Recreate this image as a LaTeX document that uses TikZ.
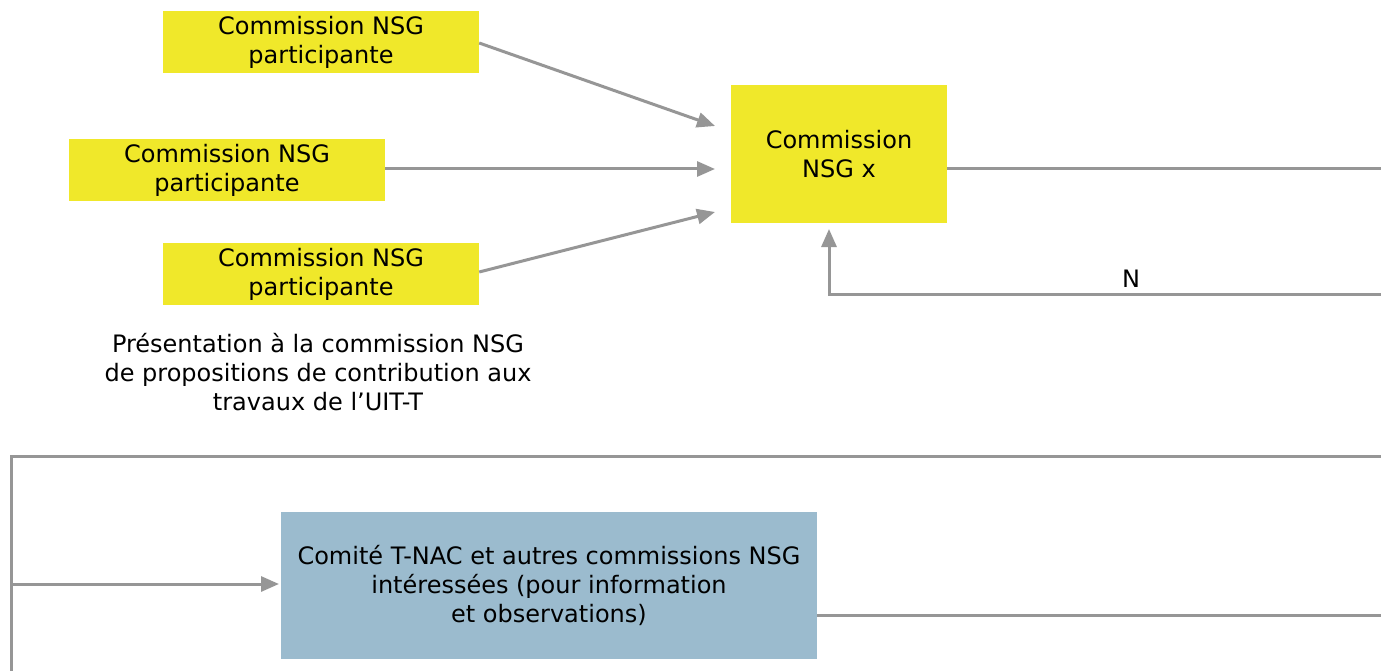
\documentclass[tikz,border=0pt]{standalone}
\usepackage{fontspec}
\setmainfont{DejaVu Sans}
\usetikzlibrary{arrows.meta}
\definecolor{ybox}{RGB}{240,232,42}
\definecolor{bbox}{RGB}{155,187,206}
\definecolor{lgray}{RGB}{150,150,150}
\begin{document}
\begin{tikzpicture}[x=1pt,y=-1pt,
  yellowbox/.style={fill=ybox,draw=none,inner sep=0pt,align=center,font=\fontsize{24}{29}\selectfont},
  bluebox/.style={fill=bbox,draw=none,inner sep=0pt,align=center,font=\fontsize{24}{29}\selectfont},
  conn/.style={draw=lgray,line width=3pt},
  arr/.style={conn,-{Triangle[length=18pt,width=15pt]}},
  lbl/.style={align=center,font=\fontsize{24}{29}\selectfont,inner sep=0pt}]
\useasboundingbox (0,0) rectangle (1381,671);
\node[yellowbox,minimum width=316pt,minimum height=62pt] (a1) at (321,42) {Commission NSG\\participante};
\node[yellowbox,minimum width=316pt,minimum height=62pt] (a2) at (227,170) {Commission NSG\\participante};
\node[yellowbox,minimum width=316pt,minimum height=62pt] (a3) at (321,274) {Commission NSG\\participante};
\node[yellowbox,minimum width=216pt,minimum height=138pt] (x) at (839,154) {Commission\\NSG x};
\node[bluebox,minimum width=536pt,minimum height=147pt] (b) at (549,585.5) {Comité T-NAC et autres commissions NSG\\intéressées (pour information\\et observations)};
\node[lbl] (cap) at (318,372) {Présentation à la commission NSG\\de propositions de contribution aux\\travaux de l’UIT-T};
\coordinate (t1) at (715,126);
\coordinate (t2) at (715,169);
\coordinate (t3) at (715,212);
\draw[arr] (a1.east |- 0,43) -- (t1);
\draw[arr] (a2.east |- 0,169) -- (t2);
\draw[arr] (a3.east |- 0,272) -- (t3);
\coordinate (xr) at (1381,169);
\draw[conn] (x.east |- xr) -- (xr);
\coordinate (nr) at (1381,294);
\coordinate (nt) at (829,229);
\draw[arr] (nr) -- (nt |- nr) -- (nt);
\node[lbl] (n) at (1131,279) {N};
\coordinate (tr) at (1381,456);
\coordinate (tl) at (11,456);
\coordinate (bl) at (11,671);
\draw[conn] (tr) -- (tl) -- (bl);
\coordinate (ls) at (11,584);
\draw[arr] (ls) -- (279,584);
\coordinate (br) at (1381,615);
\draw[conn] (b.east |- br) -- (br);
\end{tikzpicture}
\end{document}
